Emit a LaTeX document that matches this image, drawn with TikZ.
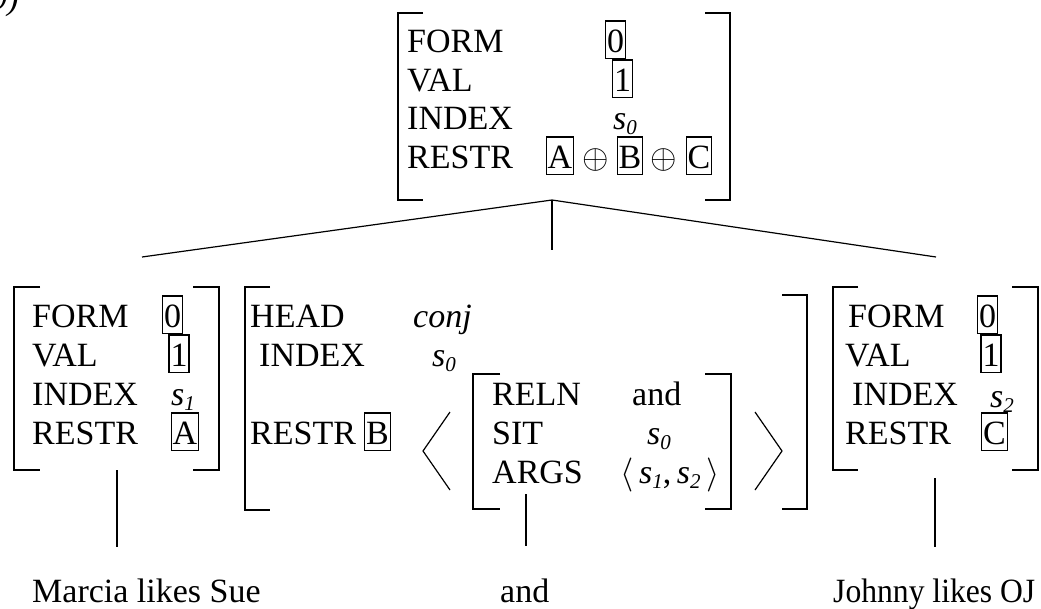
\documentclass[tikz,border=0pt]{standalone}
\usepackage{fix-cm}
\usepackage{fontspec}
\setmainfont{Liberation Serif}
\newcommand{\sv}[1]{{\itshape s\raisebox{-5pt}{\fontsize{21}{21}\selectfont #1}}}
\begin{document}
\begin{tikzpicture}[x=1pt,y=-1pt,
  every node/.style={font=\fontsize{34}{39}\selectfont},
  lbl/.style={anchor=base west,inner sep=0pt},
  tagbox/.style={draw,line width=1.1pt,anchor=base,inner xsep=1.5pt,inner ysep=0pt,text height=31pt,text depth=6.5pt},
  brk/.style={line width=1.2pt},
  edge/.style={line width=1.2pt}]
\useasboundingbox (0,0) rectangle (1041,608);
% example number (cut at top)
\node[anchor=base east,inner sep=0pt] (num) at (19,9) {\itshape (9)};

% ---------- top AVM ----------
\draw[brk] (423,13) -- (398,13) -- (398,200) -- (423,200);
\draw[brk] (705,13) -- (730,13) -- (730,200) -- (705,200);
\node[lbl] (tF) at (407,52) {FORM};
\node[lbl] (tV) at (407,91) {VAL};
\node[lbl] (tI) at (407,129) {INDEX};
\node[lbl] (tR) at (407,168) {RESTR};
\node[tagbox] (t0) at (615.5,52) {0};
\node[tagbox] (t1) at (622.5,91) {1};
\node[lbl] (ts) at (613,129) {\sv{0}};
\node[tagbox] (tA) at (560,168) {A};
\node[anchor=base,inner sep=0pt] (tp1) at (596,168) {$\oplus$};
\node[tagbox] (tB) at (630,168) {B};
\node[anchor=base,inner sep=0pt] (tp2) at (664,168) {$\oplus$};
\node[tagbox] (tC) at (699,168) {C};
\coordinate (apex) at (552,200);

% ---------- left daughter ----------
\draw[brk] (40,287) -- (14,287) -- (14,470) -- (40,470);
\draw[brk] (193,287) -- (219,287) -- (219,470) -- (193,470);
\node[lbl] (lF) at (32,327) {FORM};
\node[lbl] (lV) at (32,366) {VAL};
\node[lbl] (lI) at (32,405) {INDEX};
\node[lbl] (lR) at (32,444) {RESTR};
\node[tagbox] (l0) at (172.5,327) {0};
\node[tagbox] (l1) at (179,366) {1};
\node[lbl] (ls) at (171,405) {\sv{1}};
\node[tagbox] (lA) at (185,444) {A};
\coordinate (ltop) at (142,257);
\coordinate (lbot) at (117,470);
\node[lbl] (lw) at (32,602) {Marcia likes Sue};

% ---------- middle daughter ----------
\draw[brk] (270,287) -- (245,287) -- (245,510) -- (270,510);
\draw[brk] (782,295) -- (807,295) -- (807,509) -- (782,509);
\node[lbl] (mH) at (250,327) {HEAD};
\node[lbl] (mI) at (259,366) {INDEX};
\node[lbl] (mR) at (250,444) {RESTR};
\node[lbl] (mc) at (413,327) {\itshape conj};
\node[lbl] (ms) at (432,366) {\sv{0}};
\node[tagbox] (mB) at (377.5,444) {B};
\draw[brk] (450,412) -- (423,451) -- (450,490);
\draw[brk] (755,412) -- (782,451) -- (755,490);
\draw[brk] (500,374) -- (473,374) -- (473,509) -- (500,509);
\draw[brk] (705,374) -- (731,374) -- (731,509) -- (705,509);
\node[lbl] (rRel) at (492,405) {RELN};
\node[lbl] (rSit) at (492,444) {SIT};
\node[lbl] (rArg) at (492,483) {ARGS};
\node[lbl] (rand) at (632,405) {and};
\node[lbl] (rs) at (647,444) {\sv{0}};
\node[lbl] (rargs) at (620,483) {$\langle$\,\sv{1},\,\sv{2}\,$\rangle$};
\coordinate (mtop) at (552,250);
\coordinate (mbot) at (526,494);
\node[lbl] (mw) at (500,602) {and};

% ---------- right daughter ----------
\draw[brk] (858,287) -- (833,287) -- (833,470) -- (858,470);
\draw[brk] (1012,287) -- (1038,287) -- (1038,470) -- (1012,470);
\node[lbl] (qF) at (848,327) {FORM};
\node[lbl] (qV) at (845,366) {VAL};
\node[lbl] (qI) at (852,405) {INDEX};
\node[lbl] (qR) at (845,444) {RESTR};
\node[tagbox] (q0) at (987.5,327) {0};
\node[tagbox] (q1) at (991,366) {1};
\node[lbl] (qs) at (990,407) {\sv{2}};
\node[tagbox] (qC) at (994.5,444) {C};
\coordinate (rtop) at (936,257);
\coordinate (rbot) at (935,478);
\node[lbl] (qw) at (833,602) {\scalebox{0.93}[1]{Johnny likes OJ}};

% ---------- connectors ----------
\draw[edge] (apex) -- (ltop);
\draw[edge] (apex) -- (rtop);
\draw[edge] (apex) -- (mtop);
\draw[edge] (lbot) -- ++(0,77) coordinate (lend);
\draw[edge] (mbot) -- ++(0,52) coordinate (mend);
\draw[edge] (rbot) -- ++(0,69) coordinate (rend);
\end{tikzpicture}
\end{document}
